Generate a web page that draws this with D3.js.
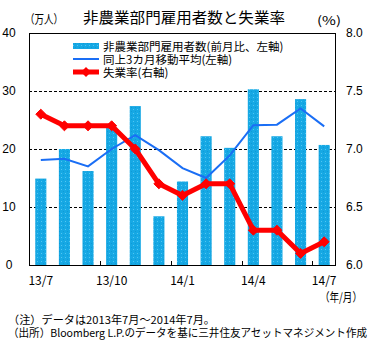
<!DOCTYPE html>
<html><head><meta charset="utf-8">
<script src="https://cdn.jsdelivr.net/npm/d3@7"></script>
<style>body{margin:0;background:#fff}svg{display:block;font-family:"Noto Sans CJK JP","Noto Sans",sans-serif}</style>
</head><body><svg id="c" width="392" height="344"></svg>
<script>
const months = ["13/7","13/8","13/9","13/10","13/11","13/12","14/1","14/2","14/3","14/4","14/5","14/6","14/7"];
const payrolls = [14.9,20.0,16.2,23.7,27.4,8.4,14.4,22.2,20.2,30.3,22.2,28.6,20.7];
const movingAvg = [18.1,18.3,17.0,20.0,22.4,19.8,16.7,15.0,18.9,24.1,24.2,27.0,23.9];
const unemployment = [7.3,7.2,7.2,7.2,7.0,6.7,6.6,6.7,6.7,6.3,6.3,6.1,6.2];
const tickMonths = ["13/7","13/10","14/1","14/4","14/7"];
const leftTicks = [0,10,20,30,40];
const rightTicks = [6.0,6.5,7.0,7.5,8.0];
const legendLabels = ["非農業部門雇用者数(前月比、左軸)","同上3カ月移動平均(左軸)","失業率(右軸)"];

const svg = d3.select("#c");
const L=29,R=336,T=33,B=265;
const x = d3.scaleBand().domain(months).range([L,R]).paddingInner(0.53).paddingOuter(0.265);
const xc = d => x(d)+x.bandwidth()/2;
const yL = d3.scaleLinear().domain([0,40]).range([B,T]);
const yR = d3.scaleLinear().domain([6,8]).range([B,T]);

const defs = svg.append("defs");
const pat = defs.append("pattern").attr("id","dots").attr("width",4).attr("height",4).attr("patternUnits","userSpaceOnUse");
pat.append("rect").attr("width",4).attr("height",4).attr("fill","#16a8e4");
pat.append("rect").attr("x",1).attr("y",1).attr("width",1).attr("height",1).attr("fill","#50c6f2");
pat.append("rect").attr("x",3).attr("y",3).attr("width",1).attr("height",1).attr("fill","#0e9ad6");

// grid
svg.append("g").selectAll("line").data([10,20,30]).join("line")
 .attr("x1",L).attr("x2",R).attr("y1",d=>Math.round(yL(d))+0.5).attr("y2",d=>Math.round(yL(d))+0.5)
 .attr("stroke","#000").attr("stroke-width",1).attr("stroke-dasharray","3,2");

// bars
svg.append("g").selectAll("rect").data(payrolls).join("rect")
 .attr("x",(d,i)=>x(months[i])).attr("width",x.bandwidth())
 .attr("y",d=>yL(d)).attr("height",d=>B-yL(d)).attr("fill","url(#dots)");

// MA line
svg.append("path").datum(movingAvg)
 .attr("d",d3.line().x((d,i)=>xc(months[i])).y(d=>yL(d)))
 .attr("fill","none").attr("stroke","#1a6ef5").attr("stroke-width",2);

// unemployment
svg.append("path").datum(unemployment)
 .attr("d",d3.line().x((d,i)=>xc(months[i])).y(d=>yR(d)))
 .attr("fill","none").attr("stroke","#ff0000").attr("stroke-width",5).attr("stroke-linejoin","round");
svg.append("g").selectAll("path").data(unemployment).join("path")
 .attr("transform",(d,i)=>`translate(${xc(months[i])},${yR(d)})`)
 .attr("d",d3.symbol(d3.symbolDiamond2,64)).attr("fill","#ff0000").attr("stroke","#ff0000").attr("stroke-width",1);

// frame
svg.append("rect").attr("x",L+0.5).attr("y",T+0.5).attr("width",R-L-1).attr("height",B-T).attr("fill","none").attr("stroke","#000").attr("stroke-width",1);

// axes
const axL = d3.axisLeft(yL).tickValues(leftTicks).tickSize(0).tickPadding(8).tickFormat(d3.format("d"));
const gL = svg.append("g").attr("transform",`translate(${L},0)`).call(axL);
gL.select(".domain").remove();
gL.selectAll("text").attr("font-size",12).attr("fill","#000").attr("text-anchor","middle").attr("x",-20);
const axR = d3.axisRight(yR).tickValues(rightTicks).tickSize(0).tickPadding(10).tickFormat(d3.format(".1f"));
const gR = svg.append("g").attr("transform",`translate(${R},0)`).call(axR);
gR.select(".domain").remove();
gR.selectAll("text").attr("font-size",12).attr("fill","#000");

// x ticks inward
svg.append("g").selectAll("line").data(tickMonths.slice(1)).join("line")
 .attr("x1",d=>Math.round(x(d)-x.step()*x.paddingInner()/2)+0.5).attr("x2",d=>Math.round(x(d)-x.step()*x.paddingInner()/2)+0.5)
 .attr("y1",B).attr("y2",B-4).attr("stroke","#000");
svg.append("g").selectAll("text").data(tickMonths).join("text")
 .attr("x",d=>xc(d)).attr("y",285).attr("text-anchor","middle").attr("font-size",12).text(d=>d);

// texts
svg.append("text").attr("x",184).attr("y",23).attr("text-anchor","middle").attr("font-size",15)
 .attr("textLength",202).attr("lengthAdjust","spacingAndGlyphs").text("非農業部門雇用者数と失業率");
svg.append("text").attr("x",25).attr("y",24).attr("font-size",12).attr("textLength",38).attr("lengthAdjust","spacingAndGlyphs").text("（万人）");
svg.append("text").attr("x",317).attr("y",25).attr("font-size",12).attr("textLength",24).attr("lengthAdjust","spacingAndGlyphs").text("(%)");
svg.append("text").attr("x",320).attr("y",302).attr("font-size",12).attr("textLength",42).attr("lengthAdjust","spacingAndGlyphs").text("（年/月）");
svg.append("text").attr("x",8).attr("y",324).attr("font-size",11).attr("textLength",207).attr("lengthAdjust","spacingAndGlyphs").text("（注）データは2013年7月～2014年7月。");
svg.append("text").attr("x",8).attr("y",337).attr("font-size",11).attr("textLength",359).attr("lengthAdjust","spacingAndGlyphs").text("（出所）Bloomberg L.P.のデータを基に三井住友アセットマネジメント作成");

// legend
const lg = svg.append("g");
const ly = [46,59,72];
lg.append("rect").attr("x",73).attr("y",ly[0]-3).attr("width",26).attr("height",6).attr("fill","url(#dots)");
lg.append("line").attr("x1",73).attr("x2",99).attr("y1",ly[1]).attr("y2",ly[1]).attr("stroke","#1a6ef5").attr("stroke-width",2);
lg.append("line").attr("x1",73).attr("x2",99).attr("y1",ly[2]).attr("y2",ly[2]).attr("stroke","#ff0000").attr("stroke-width",5);
lg.append("path").attr("transform",`translate(86,${ly[2]})`).attr("d",d3.symbol(d3.symbolDiamond2,64)).attr("fill","#ff0000");
lg.selectAll("text").data(legendLabels).join("text")
 .attr("x",103).attr("y",(d,i)=>ly[i]+4.5).attr("font-size",11.5).text(d=>d);
</script></body></html>
